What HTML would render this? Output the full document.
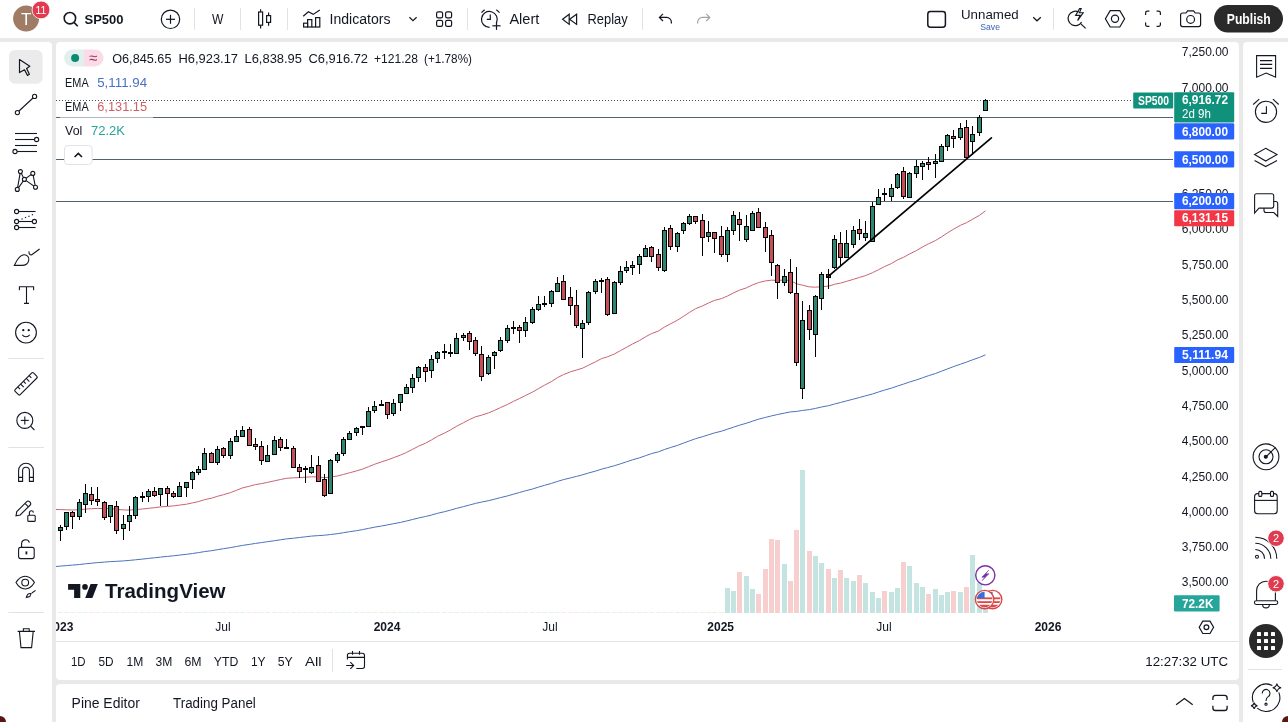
<!DOCTYPE html>
<html lang="en"><head><meta charset="utf-8"><title>SP500 Chart</title>
<style>
*{box-sizing:border-box;margin:0;padding:0}
html,body{width:1288px;height:722px;overflow:hidden}
body{background:#e9e9ea;font-family:"Liberation Sans",Arial,sans-serif;color:#131722;position:relative}
.a{position:absolute}
.panel{position:absolute;background:#fff}
#top{left:0;top:0;width:1288px;height:38px}
#left{left:0;top:42px;width:52px;height:680px;border-radius:0 4px 0 0}
#chart{left:56px;top:42px;width:1183px;height:638px;border-radius:4px}
#bottom{left:56px;top:684px;width:1183px;height:38px;border-radius:4px 4px 0 0}
#right{left:1243px;top:42px;width:45px;height:680px;border-radius:4px 0 0 0}
svg{position:absolute;overflow:visible}
.t{position:absolute;white-space:nowrap;line-height:1}
.sep{position:absolute;background:#e0e3eb}
</style></head>
<body>
<div class="panel" id="top"></div>
<div class="panel" id="left"></div>
<div class="panel" id="chart"></div>
<div class="panel" id="bottom"></div>
<div class="panel" id="right"></div>

<!-- CHART CANVAS -->
<svg class="a" style="left:0;top:0" width="1288" height="722" viewBox="0 0 1288 722" shape-rendering="crispEdges">
<defs><clipPath id="pane"><rect x="56" y="42" width="1118" height="571"/></clipPath></defs>
<g clip-path="url(#pane)">
<rect x="58" y="612" width="5" height="1" fill="#e3f2f0"/>
<rect x="64" y="612" width="5" height="1" fill="#e3f2f0"/>
<rect x="70" y="612" width="5" height="1" fill="#fbe9e9"/>
<rect x="77" y="612" width="5" height="1" fill="#e3f2f0"/>
<rect x="83" y="612" width="5" height="1" fill="#e3f2f0"/>
<rect x="89" y="612" width="5" height="1" fill="#fbe9e9"/>
<rect x="95" y="612" width="5" height="1" fill="#fbe9e9"/>
<rect x="102" y="612" width="5" height="1" fill="#fbe9e9"/>
<rect x="108" y="612" width="5" height="1" fill="#e3f2f0"/>
<rect x="114" y="612" width="5" height="1" fill="#fbe9e9"/>
<rect x="121" y="612" width="5" height="1" fill="#e3f2f0"/>
<rect x="127" y="612" width="5" height="1" fill="#e3f2f0"/>
<rect x="133" y="612" width="5" height="1" fill="#e3f2f0"/>
<rect x="140" y="612" width="5" height="1" fill="#e3f2f0"/>
<rect x="146" y="612" width="5" height="1" fill="#e3f2f0"/>
<rect x="152" y="612" width="5" height="1" fill="#fbe9e9"/>
<rect x="158" y="612" width="5" height="1" fill="#e3f2f0"/>
<rect x="165" y="612" width="5" height="1" fill="#fbe9e9"/>
<rect x="171" y="612" width="5" height="1" fill="#fbe9e9"/>
<rect x="177" y="612" width="5" height="1" fill="#e3f2f0"/>
<rect x="184" y="612" width="5" height="1" fill="#e3f2f0"/>
<rect x="190" y="612" width="5" height="1" fill="#e3f2f0"/>
<rect x="196" y="612" width="5" height="1" fill="#e3f2f0"/>
<rect x="202" y="612" width="5" height="1" fill="#e3f2f0"/>
<rect x="209" y="612" width="5" height="1" fill="#fbe9e9"/>
<rect x="215" y="612" width="5" height="1" fill="#e3f2f0"/>
<rect x="221" y="612" width="5" height="1" fill="#fbe9e9"/>
<rect x="228" y="612" width="5" height="1" fill="#e3f2f0"/>
<rect x="234" y="612" width="5" height="1" fill="#e3f2f0"/>
<rect x="240" y="612" width="5" height="1" fill="#e3f2f0"/>
<rect x="247" y="612" width="5" height="1" fill="#fbe9e9"/>
<rect x="253" y="612" width="5" height="1" fill="#fbe9e9"/>
<rect x="259" y="612" width="5" height="1" fill="#fbe9e9"/>
<rect x="265" y="612" width="5" height="1" fill="#e3f2f0"/>
<rect x="272" y="612" width="5" height="1" fill="#e3f2f0"/>
<rect x="278" y="612" width="5" height="1" fill="#fbe9e9"/>
<rect x="284" y="612" width="5" height="1" fill="#fbe9e9"/>
<rect x="291" y="612" width="5" height="1" fill="#fbe9e9"/>
<rect x="297" y="612" width="5" height="1" fill="#fbe9e9"/>
<rect x="303" y="612" width="5" height="1" fill="#e3f2f0"/>
<rect x="309" y="612" width="5" height="1" fill="#e3f2f0"/>
<rect x="316" y="612" width="5" height="1" fill="#fbe9e9"/>
<rect x="322" y="612" width="5" height="1" fill="#fbe9e9"/>
<rect x="328" y="612" width="5" height="1" fill="#e3f2f0"/>
<rect x="335" y="612" width="5" height="1" fill="#e3f2f0"/>
<rect x="341" y="612" width="5" height="1" fill="#e3f2f0"/>
<rect x="347" y="612" width="5" height="1" fill="#e3f2f0"/>
<rect x="354" y="612" width="5" height="1" fill="#e3f2f0"/>
<rect x="360" y="612" width="5" height="1" fill="#e3f2f0"/>
<rect x="366" y="612" width="5" height="1" fill="#e3f2f0"/>
<rect x="372" y="612" width="5" height="1" fill="#e3f2f0"/>
<rect x="379" y="612" width="5" height="1" fill="#fbe9e9"/>
<rect x="385" y="612" width="5" height="1" fill="#fbe9e9"/>
<rect x="391" y="612" width="5" height="1" fill="#e3f2f0"/>
<rect x="398" y="612" width="5" height="1" fill="#e3f2f0"/>
<rect x="404" y="612" width="5" height="1" fill="#e3f2f0"/>
<rect x="410" y="612" width="5" height="1" fill="#e3f2f0"/>
<rect x="416" y="612" width="5" height="1" fill="#e3f2f0"/>
<rect x="423" y="612" width="5" height="1" fill="#fbe9e9"/>
<rect x="429" y="612" width="5" height="1" fill="#e3f2f0"/>
<rect x="435" y="612" width="5" height="1" fill="#e3f2f0"/>
<rect x="442" y="612" width="5" height="1" fill="#e3f2f0"/>
<rect x="448" y="612" width="5" height="1" fill="#e3f2f0"/>
<rect x="454" y="612" width="5" height="1" fill="#e3f2f0"/>
<rect x="461" y="612" width="5" height="1" fill="#e3f2f0"/>
<rect x="467" y="612" width="5" height="1" fill="#fbe9e9"/>
<rect x="473" y="612" width="5" height="1" fill="#fbe9e9"/>
<rect x="479" y="612" width="5" height="1" fill="#fbe9e9"/>
<rect x="486" y="612" width="5" height="1" fill="#e3f2f0"/>
<rect x="492" y="612" width="5" height="1" fill="#e3f2f0"/>
<rect x="498" y="612" width="5" height="1" fill="#e3f2f0"/>
<rect x="505" y="612" width="5" height="1" fill="#e3f2f0"/>
<rect x="511" y="612" width="5" height="1" fill="#e3f2f0"/>
<rect x="517" y="612" width="5" height="1" fill="#fbe9e9"/>
<rect x="523" y="612" width="5" height="1" fill="#e3f2f0"/>
<rect x="530" y="612" width="5" height="1" fill="#e3f2f0"/>
<rect x="536" y="612" width="5" height="1" fill="#e3f2f0"/>
<rect x="542" y="612" width="5" height="1" fill="#e3f2f0"/>
<rect x="549" y="612" width="5" height="1" fill="#e3f2f0"/>
<rect x="555" y="612" width="5" height="1" fill="#e3f2f0"/>
<rect x="561" y="612" width="5" height="1" fill="#fbe9e9"/>
<rect x="568" y="612" width="5" height="1" fill="#fbe9e9"/>
<rect x="574" y="612" width="5" height="1" fill="#fbe9e9"/>
<rect x="580" y="612" width="5" height="1" fill="#e3f2f0"/>
<rect x="586" y="612" width="5" height="1" fill="#e3f2f0"/>
<rect x="593" y="612" width="5" height="1" fill="#e3f2f0"/>
<rect x="599" y="612" width="5" height="1" fill="#e3f2f0"/>
<rect x="605" y="612" width="5" height="1" fill="#fbe9e9"/>
<rect x="612" y="612" width="5" height="1" fill="#e3f2f0"/>
<rect x="618" y="612" width="5" height="1" fill="#e3f2f0"/>
<rect x="624" y="612" width="5" height="1" fill="#e3f2f0"/>
<rect x="630" y="612" width="5" height="1" fill="#e3f2f0"/>
<rect x="637" y="612" width="5" height="1" fill="#e3f2f0"/>
<rect x="643" y="612" width="5" height="1" fill="#e3f2f0"/>
<rect x="649" y="612" width="5" height="1" fill="#fbe9e9"/>
<rect x="656" y="612" width="5" height="1" fill="#fbe9e9"/>
<rect x="662" y="612" width="5" height="1" fill="#e3f2f0"/>
<rect x="668" y="612" width="5" height="1" fill="#fbe9e9"/>
<rect x="675" y="612" width="5" height="1" fill="#e3f2f0"/>
<rect x="681" y="612" width="5" height="1" fill="#e3f2f0"/>
<rect x="687" y="612" width="5" height="1" fill="#e3f2f0"/>
<rect x="693" y="612" width="5" height="1" fill="#fbe9e9"/>
<rect x="700" y="612" width="5" height="1" fill="#fbe9e9"/>
<rect x="706" y="612" width="5" height="1" fill="#e3f2f0"/>
<rect x="712" y="612" width="5" height="1" fill="#fbe9e9"/>
<rect x="719" y="612" width="5" height="1" fill="#fbe9e9"/>
<rect x="725" y="588" width="5" height="25" fill="#c3e4e1"/>
<rect x="731" y="591" width="5" height="22" fill="#c3e4e1"/>
<rect x="737" y="572" width="5" height="41" fill="#f7cfcf"/>
<rect x="744" y="576" width="5" height="37" fill="#c3e4e1"/>
<rect x="750" y="589" width="5" height="24" fill="#c3e4e1"/>
<rect x="756" y="594" width="5" height="19" fill="#f7cfcf"/>
<rect x="763" y="569" width="5" height="44" fill="#f7cfcf"/>
<rect x="769" y="539" width="5" height="74" fill="#f7cfcf"/>
<rect x="775" y="540" width="5" height="73" fill="#f7cfcf"/>
<rect x="782" y="564" width="5" height="49" fill="#c3e4e1"/>
<rect x="788" y="581" width="5" height="32" fill="#f7cfcf"/>
<rect x="794" y="530" width="5" height="83" fill="#f7cfcf"/>
<rect x="800" y="470" width="5" height="143" fill="#c3e4e1"/>
<rect x="807" y="551" width="5" height="62" fill="#f7cfcf"/>
<rect x="813" y="556" width="5" height="57" fill="#c3e4e1"/>
<rect x="819" y="563" width="5" height="50" fill="#c3e4e1"/>
<rect x="826" y="569" width="5" height="44" fill="#f7cfcf"/>
<rect x="832" y="578" width="5" height="35" fill="#c3e4e1"/>
<rect x="838" y="570" width="5" height="43" fill="#f7cfcf"/>
<rect x="844" y="578" width="5" height="35" fill="#c3e4e1"/>
<rect x="851" y="581" width="5" height="32" fill="#c3e4e1"/>
<rect x="857" y="575" width="5" height="38" fill="#f7cfcf"/>
<rect x="863" y="583" width="5" height="30" fill="#c3e4e1"/>
<rect x="870" y="592" width="5" height="21" fill="#c3e4e1"/>
<rect x="876" y="598" width="5" height="15" fill="#c3e4e1"/>
<rect x="882" y="591" width="5" height="22" fill="#f7cfcf"/>
<rect x="889" y="592" width="5" height="21" fill="#c3e4e1"/>
<rect x="895" y="588" width="5" height="25" fill="#c3e4e1"/>
<rect x="901" y="562" width="5" height="51" fill="#f7cfcf"/>
<rect x="907" y="566" width="5" height="47" fill="#c3e4e1"/>
<rect x="914" y="583" width="5" height="30" fill="#c3e4e1"/>
<rect x="920" y="587" width="5" height="26" fill="#c3e4e1"/>
<rect x="926" y="594" width="5" height="19" fill="#f7cfcf"/>
<rect x="933" y="589" width="5" height="24" fill="#c3e4e1"/>
<rect x="939" y="595" width="5" height="18" fill="#c3e4e1"/>
<rect x="945" y="592" width="5" height="21" fill="#c3e4e1"/>
<rect x="951" y="591" width="5" height="22" fill="#f7cfcf"/>
<rect x="958" y="592" width="5" height="21" fill="#c3e4e1"/>
<rect x="964" y="587" width="5" height="26" fill="#f7cfcf"/>
<rect x="970" y="555" width="5" height="58" fill="#c3e4e1"/>
<rect x="977" y="583" width="5" height="30" fill="#c3e4e1"/>
<rect x="983" y="600" width="5" height="13" fill="#c3e4e1"/>
<polyline points="50.0,509.4 60.5,509.6 66.5,509.8 72.5,510.0 79.5,509.7 85.5,509.1 91.5,508.7 97.5,508.4 104.5,508.7 110.5,508.6 116.5,509.4 123.5,509.9 129.5,510.1 135.5,509.6 142.5,509.0 148.5,508.3 154.5,507.7 160.5,506.9 167.5,506.4 173.5,505.9 179.5,505.1 186.5,504.2 192.5,502.9 198.5,501.6 204.5,499.7 211.5,498.2 217.5,496.3 223.5,494.7 230.5,492.6 236.5,490.3 242.5,487.9 249.5,486.2 255.5,484.6 261.5,483.6 267.5,482.4 274.5,480.8 280.5,479.5 286.5,478.3 293.5,477.8 299.5,477.6 305.5,477.2 311.5,476.8 318.5,477.0 324.5,477.7 330.5,476.9 337.5,476.0 343.5,474.4 349.5,472.8 356.5,470.9 362.5,469.1 368.5,466.7 374.5,464.3 381.5,461.9 387.5,459.9 393.5,457.7 400.5,455.1 406.5,452.4 412.5,449.4 418.5,446.2 425.5,443.2 431.5,439.9 437.5,436.4 444.5,433.1 450.5,429.9 456.5,426.3 463.5,422.7 469.5,419.5 475.5,416.8 481.5,415.2 488.5,412.9 494.5,410.4 500.5,407.6 507.5,404.4 513.5,401.3 519.5,398.5 525.5,395.5 532.5,392.1 538.5,388.6 544.5,385.2 551.5,381.5 557.5,377.6 563.5,374.6 570.5,371.8 576.5,370.0 582.5,368.2 588.5,365.2 595.5,361.8 601.5,358.6 607.5,356.8 614.5,353.9 620.5,350.6 626.5,347.3 632.5,344.0 639.5,340.5 645.5,336.8 651.5,333.6 658.5,331.0 664.5,327.0 670.5,323.8 677.5,320.2 683.5,316.3 689.5,312.4 695.5,308.7 702.5,305.9 708.5,303.0 714.5,300.4 721.5,298.6 727.5,296.0 733.5,292.9 739.5,290.2 746.5,287.8 752.5,284.9 758.5,282.6 765.5,280.9 771.5,280.2 777.5,280.3 784.5,280.1 790.5,280.6 796.5,283.8 802.5,285.2 809.5,286.9 815.5,287.2 821.5,286.6 828.5,286.2 834.5,284.3 840.5,283.1 846.5,281.4 853.5,279.3 859.5,277.4 865.5,275.6 872.5,272.7 878.5,269.7 884.5,266.6 891.5,263.5 897.5,259.9 903.5,257.3 909.5,254.0 916.5,250.5 922.5,247.0 928.5,243.8 935.5,240.5 941.5,236.8 947.5,232.9 953.5,229.2 960.5,225.3 966.5,222.7 972.5,219.3 979.5,215.3 985.5,210.8" fill="none" stroke="#c96472" stroke-width="1" shape-rendering="geometricPrecision"/>
<polyline points="50.0,567.0 60.5,566.1 66.5,565.6 72.5,565.1 79.5,564.5 85.5,563.8 91.5,563.2 97.5,562.6 104.5,562.1 110.5,561.6 116.5,561.3 123.5,560.9 129.5,560.4 135.5,559.8 142.5,559.1 148.5,558.4 154.5,557.8 160.5,557.1 167.5,556.4 173.5,555.8 179.5,555.1 186.5,554.3 192.5,553.5 198.5,552.6 204.5,551.6 211.5,550.7 217.5,549.7 223.5,548.7 230.5,547.6 236.5,546.5 242.5,545.4 249.5,544.4 255.5,543.4 261.5,542.6 267.5,541.7 274.5,540.7 280.5,539.8 286.5,538.9 293.5,538.2 299.5,537.5 305.5,536.8 311.5,536.1 318.5,535.6 324.5,535.2 330.5,534.5 337.5,533.7 343.5,532.7 349.5,531.7 356.5,530.7 362.5,529.6 368.5,528.4 374.5,527.2 381.5,526.0 387.5,524.9 393.5,523.7 400.5,522.4 406.5,521.0 412.5,519.5 418.5,518.0 425.5,516.5 431.5,515.0 437.5,513.3 444.5,511.7 450.5,510.1 456.5,508.4 463.5,506.6 469.5,505.0 475.5,503.4 481.5,502.1 488.5,500.7 494.5,499.2 500.5,497.6 507.5,495.9 513.5,494.2 519.5,492.5 525.5,490.8 532.5,489.0 538.5,487.1 544.5,485.3 551.5,483.4 557.5,481.4 563.5,479.6 570.5,477.9 576.5,476.4 582.5,474.8 588.5,473.0 595.5,471.1 601.5,469.2 607.5,467.6 614.5,465.7 620.5,463.8 626.5,461.8 632.5,459.8 639.5,457.8 645.5,455.7 651.5,453.6 658.5,451.8 664.5,449.5 670.5,447.5 677.5,445.4 683.5,443.1 689.5,440.9 695.5,438.7 702.5,436.7 708.5,434.8 714.5,432.9 721.5,431.2 727.5,429.2 733.5,427.2 739.5,425.2 746.5,423.2 752.5,421.2 758.5,419.2 765.5,417.4 771.5,415.9 777.5,414.5 784.5,413.1 790.5,411.9 796.5,411.4 802.5,410.4 809.5,409.6 815.5,408.4 821.5,407.0 828.5,405.7 834.5,404.0 840.5,402.5 846.5,400.9 853.5,399.1 859.5,397.5 865.5,395.8 872.5,394.0 878.5,392.0 884.5,390.1 891.5,388.1 897.5,386.0 903.5,384.1 909.5,382.0 916.5,379.9 922.5,377.8 928.5,375.7 935.5,373.5 941.5,371.2 947.5,368.9 953.5,366.6 960.5,364.2 966.5,362.1 972.5,359.8 979.5,357.4 985.5,354.8" fill="none" stroke="#4a72bb" stroke-width="1" shape-rendering="geometricPrecision"/>
<rect x="56" y="117" width="1117" height="1" fill="#52626f"/>
<rect x="56" y="159" width="1117" height="1" fill="#52626f"/>
<rect x="56" y="201" width="1117" height="1" fill="#52626f"/>
<line x1="56" y1="100.5" x2="1132" y2="100.5" stroke="#4a5252" stroke-width="1" stroke-dasharray="1 2"/>
<rect x="60" y="525" width="1" height="16" fill="#000"/>
<rect x="58.5" y="527.5" width="4" height="3" fill="#2f8571" stroke="#000" stroke-width="1"/>
<rect x="66" y="512" width="1" height="18" fill="#000"/>
<rect x="64.5" y="512.5" width="4" height="14" fill="#2f8571" stroke="#000" stroke-width="1"/>
<rect x="72" y="511" width="1" height="18" fill="#000"/>
<rect x="70.5" y="512.5" width="4" height="4" fill="#c35058" stroke="#000" stroke-width="1"/>
<rect x="79" y="499" width="1" height="21" fill="#000"/>
<rect x="77.5" y="502.5" width="4" height="14" fill="#2f8571" stroke="#000" stroke-width="1"/>
<rect x="85" y="484" width="1" height="29" fill="#000"/>
<rect x="83.5" y="493.5" width="4" height="11" fill="#2f8571" stroke="#000" stroke-width="1"/>
<rect x="91" y="487" width="1" height="18" fill="#000"/>
<rect x="89.5" y="494.5" width="4" height="6" fill="#c35058" stroke="#000" stroke-width="1"/>
<rect x="97" y="487" width="1" height="19" fill="#000"/>
<rect x="95.5" y="499.5" width="4" height="2" fill="#c35058" stroke="#000" stroke-width="1"/>
<rect x="104" y="501" width="1" height="19" fill="#000"/>
<rect x="102.5" y="502.5" width="4" height="15" fill="#c35058" stroke="#000" stroke-width="1"/>
<rect x="110" y="505" width="1" height="18" fill="#000"/>
<rect x="108.5" y="505.5" width="4" height="11" fill="#2f8571" stroke="#000" stroke-width="1"/>
<rect x="116" y="501" width="1" height="33" fill="#000"/>
<rect x="114.5" y="506.5" width="4" height="24" fill="#c35058" stroke="#000" stroke-width="1"/>
<rect x="123" y="515" width="1" height="25" fill="#000"/>
<rect x="121.5" y="524.5" width="4" height="4" fill="#2f8571" stroke="#000" stroke-width="1"/>
<rect x="129" y="506" width="1" height="25" fill="#000"/>
<rect x="127.5" y="515.5" width="4" height="6" fill="#2f8571" stroke="#000" stroke-width="1"/>
<rect x="135" y="496" width="1" height="23" fill="#000"/>
<rect x="133.5" y="497.5" width="4" height="18" fill="#2f8571" stroke="#000" stroke-width="1"/>
<rect x="142" y="492" width="1" height="10" fill="#000"/>
<rect x="140.5" y="496.5" width="4" height="1" fill="#2f8571" stroke="#000" stroke-width="1"/>
<rect x="148" y="489" width="1" height="13" fill="#000"/>
<rect x="146.5" y="491.5" width="4" height="5" fill="#2f8571" stroke="#000" stroke-width="1"/>
<rect x="154" y="487" width="1" height="10" fill="#000"/>
<rect x="152.5" y="491.5" width="4" height="4" fill="#c35058" stroke="#000" stroke-width="1"/>
<rect x="160" y="488" width="1" height="18" fill="#000"/>
<rect x="158.5" y="488.5" width="4" height="6" fill="#2f8571" stroke="#000" stroke-width="1"/>
<rect x="167" y="486" width="1" height="20" fill="#000"/>
<rect x="165.5" y="488.5" width="4" height="5" fill="#c35058" stroke="#000" stroke-width="1"/>
<rect x="173" y="491" width="1" height="7" fill="#000"/>
<rect x="171.5" y="493.5" width="4" height="3" fill="#c35058" stroke="#000" stroke-width="1"/>
<rect x="179" y="482" width="1" height="15" fill="#000"/>
<rect x="177.5" y="486.5" width="4" height="10" fill="#2f8571" stroke="#000" stroke-width="1"/>
<rect x="186" y="482" width="1" height="15" fill="#000"/>
<rect x="184.5" y="482.5" width="4" height="5" fill="#2f8571" stroke="#000" stroke-width="1"/>
<rect x="192" y="471" width="1" height="18" fill="#000"/>
<rect x="190.5" y="472.5" width="4" height="7" fill="#2f8571" stroke="#000" stroke-width="1"/>
<rect x="198" y="466" width="1" height="9" fill="#000"/>
<rect x="196.5" y="469.5" width="4" height="3" fill="#2f8571" stroke="#000" stroke-width="1"/>
<rect x="204" y="448" width="1" height="22" fill="#000"/>
<rect x="202.5" y="453.5" width="4" height="16" fill="#2f8571" stroke="#000" stroke-width="1"/>
<rect x="211" y="452" width="1" height="11" fill="#000"/>
<rect x="209.5" y="453.5" width="4" height="9" fill="#c35058" stroke="#000" stroke-width="1"/>
<rect x="217" y="446" width="1" height="19" fill="#000"/>
<rect x="215.5" y="449.5" width="4" height="13" fill="#2f8571" stroke="#000" stroke-width="1"/>
<rect x="223" y="447" width="1" height="11" fill="#000"/>
<rect x="221.5" y="448.5" width="4" height="7" fill="#c35058" stroke="#000" stroke-width="1"/>
<rect x="230" y="438" width="1" height="21" fill="#000"/>
<rect x="228.5" y="441.5" width="4" height="14" fill="#2f8571" stroke="#000" stroke-width="1"/>
<rect x="236" y="430" width="1" height="12" fill="#000"/>
<rect x="234.5" y="436.5" width="4" height="5" fill="#2f8571" stroke="#000" stroke-width="1"/>
<rect x="242" y="426" width="1" height="11" fill="#000"/>
<rect x="240.5" y="430.5" width="4" height="6" fill="#2f8571" stroke="#000" stroke-width="1"/>
<rect x="249" y="427" width="1" height="19" fill="#000"/>
<rect x="247.5" y="429.5" width="4" height="16" fill="#c35058" stroke="#000" stroke-width="1"/>
<rect x="255" y="438" width="1" height="12" fill="#000"/>
<rect x="253.5" y="444.5" width="4" height="2" fill="#c35058" stroke="#000" stroke-width="1"/>
<rect x="261" y="441" width="1" height="24" fill="#000"/>
<rect x="259.5" y="446.5" width="4" height="14" fill="#c35058" stroke="#000" stroke-width="1"/>
<rect x="267" y="445" width="1" height="17" fill="#000"/>
<rect x="265.5" y="455.5" width="4" height="6" fill="#2f8571" stroke="#000" stroke-width="1"/>
<rect x="274" y="436" width="1" height="19" fill="#000"/>
<rect x="272.5" y="440.5" width="4" height="14" fill="#2f8571" stroke="#000" stroke-width="1"/>
<rect x="280" y="437" width="1" height="14" fill="#000"/>
<rect x="278.5" y="439.5" width="4" height="8" fill="#c35058" stroke="#000" stroke-width="1"/>
<rect x="286" y="439" width="1" height="10" fill="#000"/>
<rect x="284.5" y="447.5" width="4" height="1" fill="#c35058" stroke="#000" stroke-width="1"/>
<rect x="293" y="446" width="1" height="22" fill="#000"/>
<rect x="291.5" y="448.5" width="4" height="19" fill="#c35058" stroke="#000" stroke-width="1"/>
<rect x="299" y="464" width="1" height="14" fill="#000"/>
<rect x="297.5" y="467.5" width="4" height="4" fill="#c35058" stroke="#000" stroke-width="1"/>
<rect x="305" y="466" width="1" height="17" fill="#000"/>
<rect x="303.5" y="468.5" width="4" height="1" fill="#2f8571" stroke="#000" stroke-width="1"/>
<rect x="311" y="455" width="1" height="19" fill="#000"/>
<rect x="309.5" y="467.5" width="4" height="5" fill="#2f8571" stroke="#000" stroke-width="1"/>
<rect x="318" y="456" width="1" height="26" fill="#000"/>
<rect x="316.5" y="465.5" width="4" height="16" fill="#c35058" stroke="#000" stroke-width="1"/>
<rect x="324" y="474" width="1" height="23" fill="#000"/>
<rect x="322.5" y="479.5" width="4" height="16" fill="#c35058" stroke="#000" stroke-width="1"/>
<rect x="330" y="459" width="1" height="35" fill="#000"/>
<rect x="328.5" y="460.5" width="4" height="33" fill="#2f8571" stroke="#000" stroke-width="1"/>
<rect x="337" y="452" width="1" height="11" fill="#000"/>
<rect x="335.5" y="454.5" width="4" height="6" fill="#2f8571" stroke="#000" stroke-width="1"/>
<rect x="343" y="437" width="1" height="19" fill="#000"/>
<rect x="341.5" y="439.5" width="4" height="14" fill="#2f8571" stroke="#000" stroke-width="1"/>
<rect x="349" y="431" width="1" height="9" fill="#000"/>
<rect x="347.5" y="433.5" width="4" height="6" fill="#2f8571" stroke="#000" stroke-width="1"/>
<rect x="356" y="427" width="1" height="9" fill="#000"/>
<rect x="354.5" y="428.5" width="4" height="4" fill="#2f8571" stroke="#000" stroke-width="1"/>
<rect x="362" y="426" width="1" height="9" fill="#000"/>
<rect x="360.5" y="426.5" width="4" height="1" fill="#2f8571" stroke="#000" stroke-width="1"/>
<rect x="368" y="407" width="1" height="20" fill="#000"/>
<rect x="366.5" y="411.5" width="4" height="15" fill="#2f8571" stroke="#000" stroke-width="1"/>
<rect x="374" y="401" width="1" height="12" fill="#000"/>
<rect x="372.5" y="406.5" width="4" height="4" fill="#2f8571" stroke="#000" stroke-width="1"/>
<rect x="381" y="400" width="1" height="6" fill="#000"/>
<rect x="379.5" y="404.5" width="4" height="1" fill="#c35058" stroke="#000" stroke-width="1"/>
<rect x="387" y="402" width="1" height="17" fill="#000"/>
<rect x="385.5" y="402.5" width="4" height="12" fill="#c35058" stroke="#000" stroke-width="1"/>
<rect x="393" y="399" width="1" height="17" fill="#000"/>
<rect x="391.5" y="403.5" width="4" height="10" fill="#2f8571" stroke="#000" stroke-width="1"/>
<rect x="400" y="394" width="1" height="17" fill="#000"/>
<rect x="398.5" y="394.5" width="4" height="8" fill="#2f8571" stroke="#000" stroke-width="1"/>
<rect x="406" y="384" width="1" height="10" fill="#000"/>
<rect x="404.5" y="387.5" width="4" height="6" fill="#2f8571" stroke="#000" stroke-width="1"/>
<rect x="412" y="374" width="1" height="19" fill="#000"/>
<rect x="410.5" y="378.5" width="4" height="9" fill="#2f8571" stroke="#000" stroke-width="1"/>
<rect x="418" y="366" width="1" height="16" fill="#000"/>
<rect x="416.5" y="367.5" width="4" height="10" fill="#2f8571" stroke="#000" stroke-width="1"/>
<rect x="425" y="364" width="1" height="18" fill="#000"/>
<rect x="423.5" y="367.5" width="4" height="4" fill="#c35058" stroke="#000" stroke-width="1"/>
<rect x="431" y="355" width="1" height="23" fill="#000"/>
<rect x="429.5" y="359.5" width="4" height="11" fill="#2f8571" stroke="#000" stroke-width="1"/>
<rect x="437" y="351" width="1" height="12" fill="#000"/>
<rect x="435.5" y="352.5" width="4" height="6" fill="#2f8571" stroke="#000" stroke-width="1"/>
<rect x="444" y="344" width="1" height="15" fill="#000"/>
<rect x="442.5" y="351.5" width="4" height="1" fill="#2f8571" stroke="#000" stroke-width="1"/>
<rect x="450" y="344" width="1" height="13" fill="#000"/>
<rect x="448.5" y="352.5" width="4" height="1" fill="#2f8571" stroke="#000" stroke-width="1"/>
<rect x="456" y="333" width="1" height="21" fill="#000"/>
<rect x="454.5" y="338.5" width="4" height="15" fill="#2f8571" stroke="#000" stroke-width="1"/>
<rect x="463" y="333" width="1" height="8" fill="#000"/>
<rect x="461.5" y="335.5" width="4" height="2" fill="#2f8571" stroke="#000" stroke-width="1"/>
<rect x="469" y="331" width="1" height="19" fill="#000"/>
<rect x="467.5" y="333.5" width="4" height="8" fill="#c35058" stroke="#000" stroke-width="1"/>
<rect x="475" y="337" width="1" height="19" fill="#000"/>
<rect x="473.5" y="340.5" width="4" height="13" fill="#c35058" stroke="#000" stroke-width="1"/>
<rect x="481" y="346" width="1" height="35" fill="#000"/>
<rect x="479.5" y="354.5" width="4" height="22" fill="#c35058" stroke="#000" stroke-width="1"/>
<rect x="488" y="355" width="1" height="20" fill="#000"/>
<rect x="486.5" y="357.5" width="4" height="16" fill="#2f8571" stroke="#000" stroke-width="1"/>
<rect x="494" y="351" width="1" height="18" fill="#000"/>
<rect x="492.5" y="352.5" width="4" height="3" fill="#2f8571" stroke="#000" stroke-width="1"/>
<rect x="500" y="337" width="1" height="15" fill="#000"/>
<rect x="498.5" y="340.5" width="4" height="10" fill="#2f8571" stroke="#000" stroke-width="1"/>
<rect x="507" y="325" width="1" height="18" fill="#000"/>
<rect x="505.5" y="328.5" width="4" height="12" fill="#2f8571" stroke="#000" stroke-width="1"/>
<rect x="513" y="321" width="1" height="13" fill="#000"/>
<rect x="511.5" y="327.5" width="4" height="1" fill="#2f8571" stroke="#000" stroke-width="1"/>
<rect x="519" y="325" width="1" height="18" fill="#000"/>
<rect x="517.5" y="327.5" width="4" height="3" fill="#c35058" stroke="#000" stroke-width="1"/>
<rect x="525" y="317" width="1" height="20" fill="#000"/>
<rect x="523.5" y="322.5" width="4" height="8" fill="#2f8571" stroke="#000" stroke-width="1"/>
<rect x="532" y="307" width="1" height="17" fill="#000"/>
<rect x="530.5" y="309.5" width="4" height="13" fill="#2f8571" stroke="#000" stroke-width="1"/>
<rect x="538" y="296" width="1" height="15" fill="#000"/>
<rect x="536.5" y="304.5" width="4" height="5" fill="#2f8571" stroke="#000" stroke-width="1"/>
<rect x="544" y="296" width="1" height="11" fill="#000"/>
<rect x="542.5" y="303.5" width="4" height="1" fill="#2f8571" stroke="#000" stroke-width="1"/>
<rect x="551" y="290" width="1" height="17" fill="#000"/>
<rect x="549.5" y="291.5" width="4" height="12" fill="#2f8571" stroke="#000" stroke-width="1"/>
<rect x="557" y="277" width="1" height="15" fill="#000"/>
<rect x="555.5" y="283.5" width="4" height="8" fill="#2f8571" stroke="#000" stroke-width="1"/>
<rect x="563" y="275" width="1" height="25" fill="#000"/>
<rect x="561.5" y="281.5" width="4" height="18" fill="#c35058" stroke="#000" stroke-width="1"/>
<rect x="570" y="287" width="1" height="28" fill="#000"/>
<rect x="568.5" y="297.5" width="4" height="8" fill="#c35058" stroke="#000" stroke-width="1"/>
<rect x="576" y="290" width="1" height="38" fill="#000"/>
<rect x="574.5" y="305.5" width="4" height="20" fill="#c35058" stroke="#000" stroke-width="1"/>
<rect x="582" y="320" width="1" height="38" fill="#000"/>
<rect x="580.5" y="323.5" width="4" height="5" fill="#2f8571" stroke="#000" stroke-width="1"/>
<rect x="588" y="291" width="1" height="34" fill="#000"/>
<rect x="586.5" y="292.5" width="4" height="30" fill="#2f8571" stroke="#000" stroke-width="1"/>
<rect x="595" y="279" width="1" height="15" fill="#000"/>
<rect x="593.5" y="281.5" width="4" height="10" fill="#2f8571" stroke="#000" stroke-width="1"/>
<rect x="601" y="278" width="1" height="15" fill="#000"/>
<rect x="599.5" y="280.5" width="4" height="1" fill="#2f8571" stroke="#000" stroke-width="1"/>
<rect x="607" y="277" width="1" height="39" fill="#000"/>
<rect x="605.5" y="279.5" width="4" height="35" fill="#c35058" stroke="#000" stroke-width="1"/>
<rect x="614" y="281" width="1" height="33" fill="#000"/>
<rect x="612.5" y="282.5" width="4" height="31" fill="#2f8571" stroke="#000" stroke-width="1"/>
<rect x="620" y="266" width="1" height="19" fill="#000"/>
<rect x="618.5" y="271.5" width="4" height="11" fill="#2f8571" stroke="#000" stroke-width="1"/>
<rect x="626" y="261" width="1" height="12" fill="#000"/>
<rect x="624.5" y="267.5" width="4" height="3" fill="#2f8571" stroke="#000" stroke-width="1"/>
<rect x="632" y="261" width="1" height="14" fill="#000"/>
<rect x="630.5" y="265.5" width="4" height="2" fill="#2f8571" stroke="#000" stroke-width="1"/>
<rect x="639" y="254" width="1" height="20" fill="#000"/>
<rect x="637.5" y="256.5" width="4" height="8" fill="#2f8571" stroke="#000" stroke-width="1"/>
<rect x="645" y="245" width="1" height="12" fill="#000"/>
<rect x="643.5" y="248.5" width="4" height="8" fill="#2f8571" stroke="#000" stroke-width="1"/>
<rect x="651" y="246" width="1" height="16" fill="#000"/>
<rect x="649.5" y="247.5" width="4" height="9" fill="#c35058" stroke="#000" stroke-width="1"/>
<rect x="658" y="249" width="1" height="22" fill="#000"/>
<rect x="656.5" y="254.5" width="4" height="13" fill="#c35058" stroke="#000" stroke-width="1"/>
<rect x="664" y="227" width="1" height="45" fill="#000"/>
<rect x="662.5" y="230.5" width="4" height="40" fill="#2f8571" stroke="#000" stroke-width="1"/>
<rect x="670" y="225" width="1" height="25" fill="#000"/>
<rect x="668.5" y="228.5" width="4" height="18" fill="#c35058" stroke="#000" stroke-width="1"/>
<rect x="677" y="232" width="1" height="20" fill="#000"/>
<rect x="675.5" y="233.5" width="4" height="13" fill="#2f8571" stroke="#000" stroke-width="1"/>
<rect x="683" y="222" width="1" height="12" fill="#000"/>
<rect x="681.5" y="223.5" width="4" height="7" fill="#2f8571" stroke="#000" stroke-width="1"/>
<rect x="689" y="214" width="1" height="11" fill="#000"/>
<rect x="687.5" y="216.5" width="4" height="7" fill="#2f8571" stroke="#000" stroke-width="1"/>
<rect x="695" y="216" width="1" height="8" fill="#000"/>
<rect x="693.5" y="216.5" width="4" height="5" fill="#c35058" stroke="#000" stroke-width="1"/>
<rect x="702" y="214" width="1" height="42" fill="#000"/>
<rect x="700.5" y="220.5" width="4" height="17" fill="#c35058" stroke="#000" stroke-width="1"/>
<rect x="708" y="221" width="1" height="21" fill="#000"/>
<rect x="706.5" y="232.5" width="4" height="4" fill="#2f8571" stroke="#000" stroke-width="1"/>
<rect x="714" y="232" width="1" height="21" fill="#000"/>
<rect x="712.5" y="232.5" width="4" height="6" fill="#c35058" stroke="#000" stroke-width="1"/>
<rect x="721" y="226" width="1" height="31" fill="#000"/>
<rect x="719.5" y="236.5" width="4" height="18" fill="#c35058" stroke="#000" stroke-width="1"/>
<rect x="727" y="227" width="1" height="35" fill="#000"/>
<rect x="725.5" y="230.5" width="4" height="24" fill="#2f8571" stroke="#000" stroke-width="1"/>
<rect x="733" y="211" width="1" height="24" fill="#000"/>
<rect x="731.5" y="215.5" width="4" height="15" fill="#2f8571" stroke="#000" stroke-width="1"/>
<rect x="739" y="212" width="1" height="29" fill="#000"/>
<rect x="737.5" y="219.5" width="4" height="5" fill="#c35058" stroke="#000" stroke-width="1"/>
<rect x="746" y="215" width="1" height="27" fill="#000"/>
<rect x="744.5" y="226.5" width="4" height="13" fill="#2f8571" stroke="#000" stroke-width="1"/>
<rect x="752" y="211" width="1" height="20" fill="#000"/>
<rect x="750.5" y="213.5" width="4" height="17" fill="#2f8571" stroke="#000" stroke-width="1"/>
<rect x="758" y="208" width="1" height="20" fill="#000"/>
<rect x="756.5" y="212.5" width="4" height="15" fill="#c35058" stroke="#000" stroke-width="1"/>
<rect x="765" y="222" width="1" height="30" fill="#000"/>
<rect x="763.5" y="227.5" width="4" height="10" fill="#c35058" stroke="#000" stroke-width="1"/>
<rect x="771" y="230" width="1" height="46" fill="#000"/>
<rect x="769.5" y="235.5" width="4" height="27" fill="#c35058" stroke="#000" stroke-width="1"/>
<rect x="777" y="264" width="1" height="35" fill="#000"/>
<rect x="775.5" y="265.5" width="4" height="17" fill="#c35058" stroke="#000" stroke-width="1"/>
<rect x="784" y="269" width="1" height="17" fill="#000"/>
<rect x="782.5" y="276.5" width="4" height="6" fill="#2f8571" stroke="#000" stroke-width="1"/>
<rect x="790" y="259" width="1" height="35" fill="#000"/>
<rect x="788.5" y="272.5" width="4" height="20" fill="#c35058" stroke="#000" stroke-width="1"/>
<rect x="796" y="267" width="1" height="99" fill="#000"/>
<rect x="794.5" y="293.5" width="4" height="69" fill="#c35058" stroke="#000" stroke-width="1"/>
<rect x="802" y="301" width="1" height="98" fill="#000"/>
<rect x="800.5" y="320.5" width="4" height="68" fill="#2f8571" stroke="#000" stroke-width="1"/>
<rect x="809" y="305" width="1" height="35" fill="#000"/>
<rect x="807.5" y="310.5" width="4" height="19" fill="#c35058" stroke="#000" stroke-width="1"/>
<rect x="815" y="295" width="1" height="62" fill="#000"/>
<rect x="813.5" y="296.5" width="4" height="38" fill="#2f8571" stroke="#000" stroke-width="1"/>
<rect x="821" y="272" width="1" height="38" fill="#000"/>
<rect x="819.5" y="274.5" width="4" height="24" fill="#2f8571" stroke="#000" stroke-width="1"/>
<rect x="828" y="269" width="1" height="20" fill="#000"/>
<rect x="826.5" y="274.5" width="4" height="3" fill="#c35058" stroke="#000" stroke-width="1"/>
<rect x="834" y="235" width="1" height="34" fill="#000"/>
<rect x="832.5" y="239.5" width="4" height="28" fill="#2f8571" stroke="#000" stroke-width="1"/>
<rect x="840" y="232" width="1" height="33" fill="#000"/>
<rect x="838.5" y="243.5" width="4" height="14" fill="#c35058" stroke="#000" stroke-width="1"/>
<rect x="846" y="230" width="1" height="28" fill="#000"/>
<rect x="844.5" y="243.5" width="4" height="14" fill="#2f8571" stroke="#000" stroke-width="1"/>
<rect x="853" y="226" width="1" height="22" fill="#000"/>
<rect x="851.5" y="230.5" width="4" height="14" fill="#2f8571" stroke="#000" stroke-width="1"/>
<rect x="859" y="219" width="1" height="21" fill="#000"/>
<rect x="857.5" y="229.5" width="4" height="4" fill="#c35058" stroke="#000" stroke-width="1"/>
<rect x="865" y="221" width="1" height="20" fill="#000"/>
<rect x="863.5" y="233.5" width="4" height="4" fill="#2f8571" stroke="#000" stroke-width="1"/>
<rect x="872" y="202" width="1" height="40" fill="#000"/>
<rect x="870.5" y="206.5" width="4" height="35" fill="#2f8571" stroke="#000" stroke-width="1"/>
<rect x="878" y="189" width="1" height="16" fill="#000"/>
<rect x="876.5" y="197.5" width="4" height="7" fill="#2f8571" stroke="#000" stroke-width="1"/>
<rect x="884" y="188" width="1" height="13" fill="#000"/>
<rect x="882.5" y="193.5" width="4" height="1" fill="#c35058" stroke="#000" stroke-width="1"/>
<rect x="891" y="184" width="1" height="17" fill="#000"/>
<rect x="889.5" y="188.5" width="4" height="8" fill="#2f8571" stroke="#000" stroke-width="1"/>
<rect x="897" y="173" width="1" height="16" fill="#000"/>
<rect x="895.5" y="174.5" width="4" height="13" fill="#2f8571" stroke="#000" stroke-width="1"/>
<rect x="903" y="167" width="1" height="32" fill="#000"/>
<rect x="901.5" y="171.5" width="4" height="25" fill="#c35058" stroke="#000" stroke-width="1"/>
<rect x="909" y="172" width="1" height="26" fill="#000"/>
<rect x="907.5" y="173.5" width="4" height="24" fill="#2f8571" stroke="#000" stroke-width="1"/>
<rect x="916" y="160" width="1" height="18" fill="#000"/>
<rect x="914.5" y="166.5" width="4" height="7" fill="#2f8571" stroke="#000" stroke-width="1"/>
<rect x="922" y="161" width="1" height="19" fill="#000"/>
<rect x="920.5" y="163.5" width="4" height="3" fill="#2f8571" stroke="#000" stroke-width="1"/>
<rect x="928" y="157" width="1" height="13" fill="#000"/>
<rect x="926.5" y="162.5" width="4" height="2" fill="#c35058" stroke="#000" stroke-width="1"/>
<rect x="935" y="154" width="1" height="24" fill="#000"/>
<rect x="933.5" y="161.5" width="4" height="2" fill="#2f8571" stroke="#000" stroke-width="1"/>
<rect x="941" y="144" width="1" height="18" fill="#000"/>
<rect x="939.5" y="146.5" width="4" height="15" fill="#2f8571" stroke="#000" stroke-width="1"/>
<rect x="947" y="134" width="1" height="17" fill="#000"/>
<rect x="945.5" y="135.5" width="4" height="11" fill="#2f8571" stroke="#000" stroke-width="1"/>
<rect x="953" y="130" width="1" height="18" fill="#000"/>
<rect x="951.5" y="136.5" width="4" height="2" fill="#c35058" stroke="#000" stroke-width="1"/>
<rect x="960" y="123" width="1" height="17" fill="#000"/>
<rect x="958.5" y="128.5" width="4" height="9" fill="#2f8571" stroke="#000" stroke-width="1"/>
<rect x="966" y="120" width="1" height="38" fill="#000"/>
<rect x="964.5" y="127.5" width="4" height="30" fill="#c35058" stroke="#000" stroke-width="1"/>
<rect x="972" y="126" width="1" height="29" fill="#000"/>
<rect x="970.5" y="134.5" width="4" height="7" fill="#2f8571" stroke="#000" stroke-width="1"/>
<rect x="979" y="115" width="1" height="21" fill="#000"/>
<rect x="977.5" y="117.5" width="4" height="15" fill="#2f8571" stroke="#000" stroke-width="1"/>
<rect x="985" y="99" width="1" height="12" fill="#000"/>
<rect x="983.5" y="100.5" width="4" height="10" fill="#2f8571" stroke="#000" stroke-width="1"/>
<line x1="828" y1="276.6" x2="991.4" y2="137.8" stroke="#000" stroke-width="1.7" stroke-linecap="round" shape-rendering="geometricPrecision"/>
</g>
</svg>

<!-- TOOLBAR TOP -->
<svg class="a" style="left:0;top:0" width="1288" height="38" viewBox="0 0 1288 38">
<g fill="none" stroke="#131722" stroke-width="1.2">
<!-- avatar -->
<circle cx="26.1" cy="18.6" r="13" fill="#a07b66" stroke="none"/>
<text x="26.1" y="24.9" font-size="17" fill="#fff" stroke="none" text-anchor="middle" font-family="Liberation Sans">T</text>
<circle cx="41" cy="9.9" r="8.9" fill="#e23a4e" stroke="#fff" stroke-width="0.8"/>
<text x="41" y="13.7" font-size="10.5" fill="#fff" stroke="none" text-anchor="middle" font-family="Liberation Sans">11</text>
<!-- search -->
<circle cx="69.9" cy="18.2" r="5.7" stroke-width="1.6"/>
<line x1="74" y1="22.4" x2="77.8" y2="26.2" stroke-width="1.6"/>
<!-- plus circle -->
<circle cx="170.5" cy="19.3" r="9.2"/>
<line x1="166" y1="19.3" x2="175" y2="19.3"/><line x1="170.5" y1="14.8" x2="170.5" y2="23.8"/>
<!-- candles icon -->
<rect x="258.6" y="12" width="4" height="13.2"/><line x1="260.6" y1="9.2" x2="260.6" y2="12"/><line x1="260.6" y1="25.2" x2="260.6" y2="28.6"/>
<rect x="266.6" y="15.6" width="4" height="6.8"/><line x1="268.6" y1="12.4" x2="268.6" y2="15.6"/><line x1="268.6" y1="22.4" x2="268.6" y2="25.8"/>
<!-- indicators icon -->
<polyline points="303.2,16.2 308.4,11.8 313.2,14.4 319.8,10"/>
<rect x="303.6" y="23.2" width="4" height="3.8"/><rect x="307.6" y="19.6" width="4.2" height="7.4"/><rect x="315.6" y="17.6" width="4.2" height="9.4"/>
<line x1="311.8" y1="27" x2="315.6" y2="27"/>
<!-- chevron -->
<polyline points="409.4,17.2 413,20.6 416.6,17.2"/>
<!-- grid -->
<rect x="436.6" y="11.8" width="6" height="6" rx="1.6"/><rect x="445.6" y="11.8" width="6" height="6" rx="1.6"/>
<rect x="436.6" y="20.4" width="6" height="6" rx="1.6"/><rect x="445.6" y="20.4" width="6" height="6" rx="1.6"/>
<!-- alert -->
<path d="M496.6,22.6 A7.9,7.9 0 1 0 489.6,27.3"/>
<line x1="481.4" y1="12.6" x2="484.6" y2="9.8"/><line x1="496.4" y1="9.8" x2="499.6" y2="12.6"/>
<polyline points="490.3,14.4 490.3,19.4 486.8,19.4"/>
<line x1="492.4" y1="25.8" x2="500.6" y2="25.8"/><line x1="496.5" y1="21.7" x2="496.5" y2="29.9"/>
<!-- replay -->
<polygon points="562.6,19.3 569.2,14.2 569.2,24.4"/><polygon points="569.6,19.3 576.6,14.2 576.6,24.4"/>
<!-- undo / redo -->
<path d="M663,13.8 L659.4,17.4 L663,21 M659.4,17.4 H666.6 A4.8,4.8 0 0 1 671.4,22.2 V23.6"/>
<path d="M706.2,13.8 L709.8,17.4 L706.2,21 M709.8,17.4 H702.4 A4.8,4.8 0 0 0 697.6,22.2 V23.6" stroke="#a3a3a3"/>
<!-- layout square -->
<rect x="927.8" y="11.6" width="17.6" height="15.6" rx="2.6" stroke-width="1.5"/>
<polyline points="1033.2,17.2 1037,20.8 1040.8,17.2"/>
<!-- quick search -->
<path d="M1078.6,12 A7.2,7.2 0 1 0 1081.6,22"/>
<line x1="1080.4" y1="23.4" x2="1085.6" y2="28.4"/>
<path d="M1079.6,8.6 L1075.6,15.4 H1080 L1077.6,20.6 L1083.2,12.8 H1079.4 L1081.2,8.6 Z" stroke-width="1.1"/>
<!-- settings hex -->
<polygon points="1105.4,18.8 1110.2,10.6 1119.8,10.6 1124.6,18.8 1119.8,27 1110.2,27"/>
<circle cx="1115" cy="18.8" r="3.6"/>
<!-- fullscreen -->
<path d="M1145.6,15 V13 a1.8,1.8 0 0 1 1.8,-1.8 H1149.4 M1156.6,11.2 H1158.6 a1.8,1.8 0 0 1 1.8,1.8 V15 M1160.4,22.6 V24.6 a1.8,1.8 0 0 1 -1.8,1.8 H1156.6 M1149.4,26.4 H1147.4 a1.8,1.8 0 0 1 -1.8,-1.8 V22.6"/>
<!-- camera -->
<path d="M1180.6,15 a2,2 0 0 1 2,-2 H1186 L1187.6,10.8 H1193.6 L1195.2,13 H1198.6 a2,2 0 0 1 2,2 V24.6 a2,2 0 0 1 -2,2 H1182.6 a2,2 0 0 1 -2,-2 Z"/>
<circle cx="1190.6" cy="19.4" r="3.9"/>
</g>
<g fill="#e2e2e4">
<rect x="194" y="8" width="1" height="22"/><rect x="240" y="8" width="1" height="22"/><rect x="287" y="8" width="1" height="22"/>
<rect x="467" y="8" width="1" height="22"/><rect x="642" y="8" width="1" height="22"/><rect x="1053" y="8" width="1" height="22"/>
</g>
<rect x="1214" y="5" width="69" height="27.5" rx="13.75" fill="#2a2a2a"/>
<g font-family="Liberation Sans" fill="#131722">
<text x="84.5" y="23.6" font-size="13.5" font-weight="bold" textLength="39" lengthAdjust="spacingAndGlyphs">SP500</text>
<text x="212" y="23.8" font-size="14.5" textLength="11.4" lengthAdjust="spacingAndGlyphs">W</text>
<text x="329.5" y="23.6" font-size="14" textLength="61" lengthAdjust="spacingAndGlyphs">Indicators</text>
<text x="509.4" y="23.6" font-size="14" textLength="30" lengthAdjust="spacingAndGlyphs">Alert</text>
<text x="587.5" y="23.6" font-size="14" textLength="40.2" lengthAdjust="spacingAndGlyphs">Replay</text>
<text x="961" y="18.9" font-size="13.5" textLength="57.7" lengthAdjust="spacingAndGlyphs">Unnamed</text>
<text x="980.2" y="29.8" font-size="9.5" fill="#3b62b8" textLength="19.8" lengthAdjust="spacingAndGlyphs">Save</text>
<text x="1226.8" y="24" font-size="14" font-weight="bold" fill="#fff" textLength="44" lengthAdjust="spacingAndGlyphs">Publish</text>
</g>
</svg>


<!-- LEGEND -->
<svg class="a" style="left:0;top:0" width="1288" height="722" viewBox="0 0 1288 722">
<rect x="60" y="101" width="93" height="17" fill="#fff" fill-opacity="0.55"/>
<path d="M72.6,49.4 H84 V66.4 H72.6 A8.5,8.5 0 0 1 72.6,49.4 Z" fill="#e1efed"/>
<path d="M84,49.4 H95 A8.5,8.5 0 0 1 95,66.4 H84 Z" fill="#fbdbe6"/>
<circle cx="75.1" cy="58" r="4" fill="#0b8a74"/>
<text x="93.2" y="62.6" font-size="15" fill="#9e3562" text-anchor="middle" font-family="Liberation Sans, DejaVu Sans, sans-serif">≈</text>
<g font-family="Liberation Sans" font-size="13" fill="#131722">
<text x="112.2" y="62.6" textLength="59.3" lengthAdjust="spacingAndGlyphs">O6,845.65</text>
<text x="178.5" y="62.6" textLength="59.5" lengthAdjust="spacingAndGlyphs">H6,923.17</text>
<text x="244.5" y="62.6" textLength="57.5" lengthAdjust="spacingAndGlyphs">L6,838.95</text>
<text x="308.5" y="62.6" textLength="59.5" lengthAdjust="spacingAndGlyphs">C6,916.72</text>
<text x="374" y="62.6" textLength="44" lengthAdjust="spacingAndGlyphs">+121.28</text>
<text x="424" y="62.6" textLength="48" lengthAdjust="spacingAndGlyphs">(+1.78%)</text>
<text x="65.1" y="87.2" textLength="23.6" lengthAdjust="spacingAndGlyphs">EMA</text>
<text x="97.2" y="87.2" fill="#4a71c4" textLength="49.9" lengthAdjust="spacingAndGlyphs">5,111.94</text>
<text x="65.1" y="111.3" textLength="23.6" lengthAdjust="spacingAndGlyphs">EMA</text>
<text x="97.2" y="111.3" fill="#d06068" textLength="49.9" lengthAdjust="spacingAndGlyphs">6,131.15</text>
<text x="65.1" y="135.1" textLength="17.2" lengthAdjust="spacingAndGlyphs">Vol</text>
<text x="90.9" y="135.1" fill="#26a69a" textLength="34.1" lengthAdjust="spacingAndGlyphs">72.2K</text>
</g>
<rect x="64.5" y="145.5" width="27.6" height="19" rx="3.5" fill="#fff" stroke="#e0e3eb" stroke-width="1"/>
<polyline points="74.6,157 78.3,153.4 82,157" fill="none" stroke="#131722" stroke-width="1.6"/>
</svg>


<!-- PRICE AXIS -->
<svg class="a" style="left:0;top:0" width="1288" height="722" viewBox="0 0 1288 722">
<g font-family="Liberation Sans" font-size="12" fill="#131722" text-anchor="end">
<text x="1228.5" y="56.2">7,250.00</text>
<text x="1228.5" y="92.2">7,000.00</text>
<text x="1228.5" y="198.1">6,250.00</text>
<text x="1228.5" y="233.4">6,000.00</text>
<text x="1228.5" y="268.8">5,750.00</text>
<text x="1228.5" y="304">5,500.00</text>
<text x="1228.5" y="339.3">5,250.00</text>
<text x="1228.5" y="374.6">5,000.00</text>
<text x="1228.5" y="409.9">4,750.00</text>
<text x="1228.5" y="445.2">4,500.00</text>
<text x="1228.5" y="480.5">4,250.00</text>
<text x="1228.5" y="515.8">4,000.00</text>
<text x="1228.5" y="551">3,750.00</text>
<text x="1228.5" y="586.2">3,500.00</text>
</g>
<rect x="1133.2" y="92.6" width="40" height="15.8" rx="1" fill="#10917b"/>
<rect x="1174.2" y="92.2" width="60" height="30.4" rx="1" fill="#10917b"/>
<rect x="1174.2" y="123.2" width="60" height="16.2" rx="1" fill="#2962ff"/>
<rect x="1174.2" y="151.3" width="60" height="16.2" rx="1" fill="#2962ff"/>
<rect x="1174.2" y="193" width="60" height="16.2" rx="1" fill="#2962ff"/>
<rect x="1174.2" y="210.3" width="60" height="16" rx="1" fill="#f23645"/>
<rect x="1174.2" y="347" width="60" height="16" rx="1" fill="#2962ff"/>
<rect x="1174" y="595.3" width="45.6" height="16.2" rx="1" fill="#26a69a"/>
<g font-family="Liberation Sans" font-size="12" font-weight="bold" fill="#fff">
<text x="1138" y="104.6" textLength="31" lengthAdjust="spacingAndGlyphs">SP500</text>
<text x="1182" y="104.2" textLength="46" lengthAdjust="spacingAndGlyphs">6,916.72</text>
<text x="1182" y="118.1" font-weight="normal" textLength="28.8" lengthAdjust="spacingAndGlyphs">2d 9h</text>
<text x="1182" y="135.6" textLength="46" lengthAdjust="spacingAndGlyphs">6,800.00</text>
<text x="1182" y="163.7" textLength="46" lengthAdjust="spacingAndGlyphs">6,500.00</text>
<text x="1182" y="205.4" textLength="46" lengthAdjust="spacingAndGlyphs">6,200.00</text>
<text x="1182" y="222.4" textLength="46" lengthAdjust="spacingAndGlyphs">6,131.15</text>
<text x="1182" y="359.2" textLength="46" lengthAdjust="spacingAndGlyphs">5,111.94</text>
<text x="1182" y="607.6" textLength="31.4" lengthAdjust="spacingAndGlyphs">72.2K</text>
</g>
<!-- time axis -->
<defs><clipPath id="tax"><rect x="56" y="614" width="1114" height="26"/></clipPath></defs>
<g clip-path="url(#tax)" font-family="Liberation Sans" font-size="12" fill="#131722" text-anchor="middle">
<text x="60" y="631.2" font-weight="bold">2023</text>
<text x="223" y="631.2">Jul</text>
<text x="387" y="631.2" font-weight="bold">2024</text>
<text x="550" y="631.2">Jul</text>
<text x="720.7" y="631.2" font-weight="bold">2025</text>
<text x="884" y="631.2">Jul</text>
<text x="1048" y="631.2" font-weight="bold">2026</text>
</g>
<polygon points="1199.2,627.3 1202.8,621.1 1210,621.1 1213.6,627.3 1210,633.5 1202.8,633.5" fill="none" stroke="#131722" stroke-width="1.2"/>
<circle cx="1206.4" cy="627.3" r="2.4" fill="none" stroke="#131722" stroke-width="1.2"/>
<rect x="56" y="641" width="1183" height="1" fill="#e2e2e4"/>
</svg>


<!-- LEFT TOOLBAR -->
<svg class="a" style="left:0;top:0" width="52" height="722" viewBox="0 0 52 722">
<rect x="9" y="50" width="33.6" height="33.8" rx="6" fill="#ebebeb"/>
<g fill="none" stroke="#131722" stroke-width="1.1">
<!-- cursor -->
<path d="M19.5,59.6 L29.8,66.2 L26.6,68.4 L29.4,74.3 L27.5,75.4 L24.5,69.8 L19.5,72.6 Z" stroke-width="1.2" stroke-linejoin="round"/>
<!-- trend line -->
<line x1="19" y1="111" x2="33" y2="98"/>
<circle cx="17.4" cy="112.6" r="2.1"/><circle cx="34.6" cy="96.4" r="2.1"/>
<!-- horizontal lines -->
<line x1="15" y1="133.5" x2="37" y2="133.5"/>
<line x1="15" y1="139.5" x2="34.4" y2="139.5"/><circle cx="36.6" cy="139.5" r="2.1"/>
<line x1="15" y1="145.5" x2="37" y2="145.5"/>
<line x1="17.2" y1="151.5" x2="37" y2="151.5"/><circle cx="15" cy="151.5" r="2.1"/>
<!-- pattern -->
<polyline points="17.3,189.4 20.4,171.6 24.4,179.4 32.8,173.4 35.5,187.2 24.4,179.4 17.3,189.4"/>
<circle cx="20.4" cy="171.6" r="2" fill="#fff"/><circle cx="32.8" cy="173.4" r="2" fill="#fff"/><circle cx="24.4" cy="179.4" r="2" fill="#fff"/>
<circle cx="17.3" cy="189.4" r="2" fill="#fff"/><circle cx="35.5" cy="187.2" r="2" fill="#fff"/>
<!-- fib -->
<line x1="18.8" y1="211.5" x2="35.6" y2="211.5"/><circle cx="16.6" cy="211.5" r="2.1"/>
<line x1="21.5" y1="219.2" x2="35" y2="213.8" stroke-dasharray="1.3 2.4"/>
<line x1="18.8" y1="221.5" x2="32.2" y2="221.5"/><circle cx="16.6" cy="221.5" r="2.1"/><circle cx="34.4" cy="221.5" r="2.1"/>
<line x1="18.8" y1="227.5" x2="35.6" y2="227.5"/><circle cx="16.6" cy="227.5" r="2.1"/>
<!-- brush -->
<path d="M14.3,265.4 C16.6,260.4 19.8,255 24,254.8 C27.4,254.6 29.6,257.6 28.7,260.6 C27.9,263.6 25.8,265.4 22,265.4 Z"/>
<path d="M29,251.4 C28.6,253.6 30,255.4 31.8,254.8 L39.6,249"/>
<!-- T -->
<path d="M19.4,290.2 V286.8 H33.6 V290.2 M26.5,286.8 V303.4 M24,303.4 H29"/>
<!-- smile -->
<circle cx="26" cy="332.6" r="10.4"/>
<circle cx="23.3" cy="330.2" r="0.6" fill="#131722"/><circle cx="28.7" cy="330.2" r="0.6" fill="#131722"/>
<path d="M22.2,334.8 C24,337.4 28,337.4 29.8,334.8"/>
<!-- ruler -->
<g transform="translate(26,383.8) rotate(-45)">
<rect x="-13" y="-3.6" width="26" height="7.2" rx="1.2"/>
<path d="M-8,-3.6 V-0.4 M-4,-3.6 V0.8 M0,-3.6 V-0.4 M4,-3.6 V0.8 M8,-3.6 V-0.4"/>
</g>
<!-- zoom -->
<circle cx="24.8" cy="420.4" r="8"/>
<line x1="30.6" y1="426.2" x2="34.4" y2="430"/>
<line x1="20.8" y1="420.4" x2="28.8" y2="420.4"/><line x1="24.8" y1="416.4" x2="24.8" y2="424.4"/>
<!-- magnet -->
<path d="M18.6,481.4 V470.6 A7.4,7.4 0 0 1 33.4,470.6 V481.4 H29.4 V470.6 A3.4,3.4 0 0 0 22.6,470.6 V481.4 Z M18.6,477.4 H22.6 M29.4,477.4 H33.4"/>
<!-- pencil lock -->
<path d="M16,515.8 L16.8,511.6 L26.8,501.6 A1.8,1.8 0 0 1 29.4,501.6 L30.2,502.4 A1.8,1.8 0 0 1 30.2,505 L20.2,515 Z M25,503.4 L28.4,506.8"/>
<rect x="27.8" y="515.2" width="7.4" height="6.2" rx="1"/><path d="M29.4,515.2 V512.8 A2,2 0 0 1 33.4,512.6"/>
<!-- lock -->
<rect x="18.6" y="547.4" width="15.6" height="11.2" rx="2"/>
<path d="M21.6,547.4 V543.6 A4,4 0 0 1 29.4,542.6"/>
<line x1="26.4" y1="551.4" x2="26.4" y2="554.4" stroke-width="1.8"/>
<!-- eye -->
<path d="M16,582.6 C19,577.4 23,576.2 25.2,576.2 C27.4,576.2 31.4,577.4 34.4,582.6 C31.4,587.8 27.4,589 25.2,589 C23,589 19,587.8 16,582.6 Z"/>
<circle cx="25.2" cy="582.6" r="3.4"/>
<path d="M26.4,597.4 C27,594.6 29,593.2 31,593.6 L29.8,596.6 Z M31.8,593 L35.6,590.4"/>
<!-- trash -->
<path d="M17.6,631.4 H35 M19.4,631.4 L21,647.6 H31.6 L33.2,631.4 M23.4,631.4 V628.8 H29.2 V631.4"/>
</g>
<g fill="#e2e2e4">
<rect x="8.4" y="358" width="35.6" height="1"/>
<rect x="8.4" y="447" width="35.6" height="1"/>
<rect x="8.4" y="612" width="35.6" height="1"/>
</g>
</svg>


<!-- RIGHT TOOLBAR -->
<svg class="a" style="left:1243px;top:0" width="45" height="722" viewBox="1243 0 45 722">
<g fill="none" stroke="#131722" stroke-width="1.1">
<!-- watchlist -->
<path d="M1256.6,55.6 H1275.6 V77.2 L1266.1,73 L1256.6,77.2 Z"/>
<path d="M1260,60.6 H1272.2 M1260,64.4 H1272.2 M1260,68.4 H1272.2"/>
<!-- alarm -->
<circle cx="1266" cy="111.8" r="10.6"/>
<path d="M1266.4,106.2 V113.4 H1261.2"/>
<path d="M1253.2,104.5 L1259.2,99.2 M1272.9,99.2 L1278.7,104.5"/>
<!-- layers -->
<path d="M1265.7,148.3 L1277,154.6 L1265.7,161 L1254.6,154.6 Z"/>
<path d="M1254.6,160.5 L1265.7,166.6 L1277,160.5"/>
<!-- chat -->
<path d="M1254.6,213 V195.7 a2,2 0 0 1 2,-2 H1271.7 a2,2 0 0 1 2,2 V206.1 a2,2 0 0 1 -2,2 H1259 Z"/>
<path d="M1273.7,201.5 H1275.7 a2,2 0 0 1 2,2 V216.4 L1273.8,212.5 H1266 a2,2 0 0 1 -2,-2 V208.1"/>
<!-- target -->
<circle cx="1266" cy="456.8" r="12.9"/>
<circle cx="1266" cy="456.8" r="7"/>
<line x1="1266" y1="456.8" x2="1275.6" y2="447.3"/>
<circle cx="1265.8" cy="456.8" r="1.5" fill="#131722"/>
<!-- calendar -->
<rect x="1254.6" y="493.6" width="22.6" height="20.2" rx="3"/>
<path d="M1254.6,500.4 H1277.2"/>
<rect x="1258.8" y="491.4" width="3" height="5" rx="1" fill="#fff"/><rect x="1270.5" y="491.4" width="3" height="5" rx="1" fill="#fff"/>
<!-- broadcast -->
<circle cx="1257" cy="556.8" r="1.5"/>
<path d="M1255.3,549.5 A9.3,9.3 0 0 1 1264.6,558.8 M1255.3,543.3 A15.5,15.5 0 0 1 1270.8,558.8 M1255.3,537.3 A21.5,21.5 0 0 1 1276.8,558.8"/>
<!-- bell -->
<path d="M1256.6,600.7 V590.6 A9.4,9.4 0 0 1 1275.4,590.6 V600.7"/>
<rect x="1254.4" y="600.7" width="23.4" height="3.8" rx="1.9"/>
<path d="M1262.6,604.5 A3.4,3.4 0 0 0 1269.4,604.5"/>
<!-- help -->
<path d="M1278.8,692.4 A13.7,13.7 0 0 1 1257.2,708.1 M1253.25,702.26 A13.7,13.7 0 0 1 1272.4,685.6"/>
<path d="M1262.2,693.4 A3.9,3.9 0 1 1 1268.2,696.6 C1266.3,697.8 1266,698.8 1266,701"/>
<circle cx="1266" cy="704.2" r="1.1"/>
<path d="M1276.9,683.6 Q1277.6,687.1 1281.1,687.8 Q1277.6,688.5 1276.9,692 Q1276.2,688.5 1272.7,687.8 Q1276.2,687.1 1276.9,683.6 Z"/>
<path d="M1254.2,702.6 Q1254.7,705.3 1257.4,705.8 Q1254.7,706.3 1254.2,709 Q1253.7,706.3 1251,705.8 Q1253.7,705.3 1254.2,702.6 Z"/>
</g>
<circle cx="1276" cy="538.2" r="8.3" fill="#e03c50" stroke="#fff" stroke-width="1"/>
<circle cx="1276" cy="583.8" r="8.3" fill="#e03c50" stroke="#fff" stroke-width="1"/>
<text x="1276" y="542.1" font-size="11" fill="#fff" text-anchor="middle" font-family="Liberation Sans">2</text>
<text x="1276" y="587.7" font-size="11" fill="#fff" text-anchor="middle" font-family="Liberation Sans">2</text>
<circle cx="1266" cy="641" r="17" fill="#2a2a2a"/>
<g fill="#fff">
<rect x="1257" y="632" width="4" height="4" rx="0.6"/><rect x="1264" y="632" width="4" height="4" rx="0.6"/><rect x="1271" y="632" width="4" height="4" rx="0.6"/><rect x="1257" y="639" width="4" height="4" rx="0.6"/><rect x="1264" y="639" width="4" height="4" rx="0.6"/><rect x="1271" y="639" width="4" height="4" rx="0.6"/><rect x="1257" y="646" width="4" height="4" rx="0.6"/><rect x="1264" y="646" width="4" height="4" rx="0.6"/><rect x="1271" y="646" width="4" height="4" rx="0.6"/>
</g>
<rect x="1248" y="669" width="34" height="1" fill="#e2e2e4"/>
</svg>


<!-- BOTTOM -->
<svg class="a" style="left:0;top:0" width="1288" height="722" viewBox="0 0 1288 722">
<g font-family="Liberation Sans" font-size="13" fill="#131722">
<text x="71" y="666.3" textLength="14.6" lengthAdjust="spacingAndGlyphs">1D</text>
<text x="98.5" y="666.3" textLength="15.1" lengthAdjust="spacingAndGlyphs">5D</text>
<text x="126.5" y="666.3" textLength="16.8" lengthAdjust="spacingAndGlyphs">1M</text>
<text x="155.5" y="666.3" textLength="16.8" lengthAdjust="spacingAndGlyphs">3M</text>
<text x="184.5" y="666.3" textLength="17.1" lengthAdjust="spacingAndGlyphs">6M</text>
<text x="213.8" y="666.3" textLength="24.5" lengthAdjust="spacingAndGlyphs">YTD</text>
<text x="250.9" y="666.3" textLength="14.7" lengthAdjust="spacingAndGlyphs">1Y</text>
<text x="277.8" y="666.3" textLength="15" lengthAdjust="spacingAndGlyphs">5Y</text>
<text x="305" y="666.3" textLength="16.5" lengthAdjust="spacingAndGlyphs">All</text>
<text x="1145.3" y="666.3" textLength="82.7" lengthAdjust="spacingAndGlyphs">12:27:32 UTC</text>
<text x="71.6" y="708" font-size="14" textLength="68.2" lengthAdjust="spacingAndGlyphs">Pine Editor</text>
<text x="173" y="708" font-size="14" textLength="82.8" lengthAdjust="spacingAndGlyphs">Trading Panel</text>
</g>
<rect x="332" y="649" width="1" height="23" fill="#e2e2e4"/>
<g fill="none" stroke="#131722" stroke-width="1.1">
<!-- calendar arrow -->
<path d="M347.4,659.4 V655.4 A2.2,2.2 0 0 1 349.6,653.2 H362.3 A2.2,2.2 0 0 1 364.5,655.4 V666.3 A2.2,2.2 0 0 1 362.3,668.5 H356.3"/>
<path d="M347.4,657.4 H364.5 M352.5,651 V654.8 M359.5,651 V654.8"/>
<path d="M346.2,665.5 H353.6 M350.3,662.1 L353.7,665.5 L350.3,668.9"/>
<!-- caret up, maximize -->
<polyline points="1176.1,704.7 1184.4,698.4 1192.7,704.7" stroke-width="1.2"/>
<path d="M1212.9,700 V697.9 a2.6,2.6 0 0 1 2.6,-2.6 H1224.5 a2.6,2.6 0 0 1 2.6,2.6 V700 M1212.9,705.8 V707.9 a2.6,2.6 0 0 0 2.6,2.6 H1224.5 a2.6,2.6 0 0 0 2.6,-2.6 V705.8" stroke-width="1.3"/>
</g>
</svg>

<svg class="a" style="left:0;top:0" width="1288" height="722" viewBox="0 0 1288 722">
<!-- TradingView logo -->
<g fill="#131722">
<path d="M68.1,584.1 H80.3 V598.1 H74.1 V589.7 H68.1 Z"/>
<circle cx="85" cy="586.9" r="2.8"/>
<path d="M90.6,584.1 H97.8 L92.4,598.1 H85.2 Z"/>
<text x="105" y="598.1" font-family="Liberation Sans" font-size="19.5" font-weight="bold" textLength="120.6" lengthAdjust="spacingAndGlyphs">TradingView</text>
</g>
<!-- events -->
<defs>
<clipPath id="flag2"><circle cx="992.6" cy="599.6" r="7.8"/></clipPath>
<clipPath id="flag1"><circle cx="984.6" cy="599.6" r="7.8"/></clipPath>
<g id="usflag">
<rect x="-9" y="-9" width="18" height="18" fill="#fff"/>
<rect x="-9" y="-2.2" width="18" height="1.8" fill="#e04848"/><rect x="-9" y="1.6" width="18" height="1.8" fill="#e04848"/><rect x="-9" y="5.2" width="18" height="4" fill="#e04848"/>
<rect x="-9" y="-9" width="9" height="7.6" fill="#3a6fd8"/>
</g>
</defs>
<circle cx="992.6" cy="599.6" r="9.2" fill="#fff" stroke="#d84848" stroke-width="1.4"/>
<g clip-path="url(#flag2)"><use href="#usflag" x="992.6" y="599.6"/></g>
<circle cx="984.6" cy="599.6" r="9.2" fill="#fff" stroke="#d84848" stroke-width="1.4"/>
<g clip-path="url(#flag1)"><use href="#usflag" x="984.6" y="599.6"/></g>
<circle cx="985.3" cy="575.3" r="9.6" fill="#fff" stroke="#7b2fa8" stroke-width="1.4"/>
<path d="M988.6,570.4 L981.8,577.2 H985.2 L982,580.6 L988.9,573.8 H985.4 Z" fill="#7b2fa8" stroke="#7b2fa8" stroke-width="0.6" stroke-linejoin="round"/>
</svg>
<div class="a" style="left:-6px;top:716px;width:12px;height:12px;border-radius:50%;background:#5a1414"></div>
<div class="a" style="left:1282px;top:716px;width:12px;height:12px;border-radius:50%;background:#5a1414"></div>
</body></html>
